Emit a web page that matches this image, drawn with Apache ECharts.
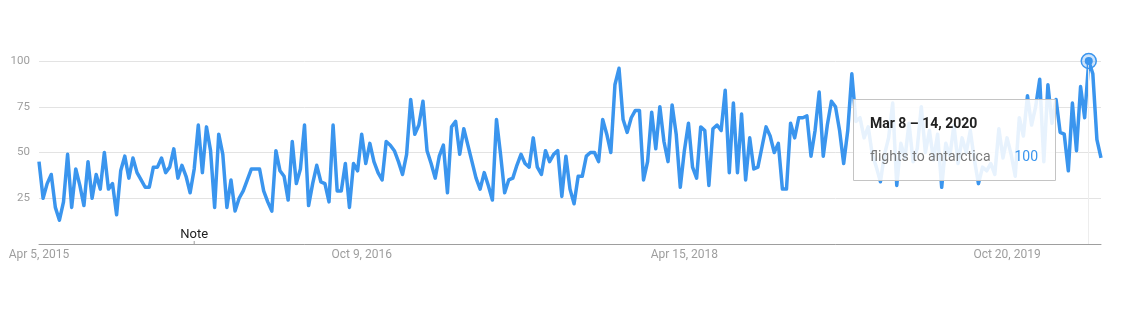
<!DOCTYPE html>
<html><head><meta charset="utf-8">
<script src="https://cdn.jsdelivr.net/npm/echarts@6.0.0/dist/echarts.min.js"></script>
<style>html,body{margin:0;padding:0;background:#fff}#c{width:1131px;height:312px}</style>
</head><body><div id="c"></div>
<script>
// Weekly interest, Google Trends style (week starting Apr 5, 2015)
const weeksA = [45,25,33,38,20,13,23,49,20,41,32,21,45,25,38,30,50,30,33,16,40,48,36,47,39,35,31,31,42,42,47,39,42];
const weeksB = [52,36,43,37,28,41,65,39,64,51,20,60,49,20,35,18,25,29,35,41,41,41,29,23,18,51,40,37,24,56,33,41,65];
const weeksC = [21,33,43,34,33,23,65,29,29,44,20,44,40,60,44,55,45,39,35,56,54,51,45,38,49,79,60,65,78,51,44,36,48];
const weeksD = [54,28,64,67,49,63,54,45,36,30,39,32,24,68,49,28,35,36,43,49,44,42,58,42,38,51,45,49,51,26,48,30,22];
const weeksE = [37,37,48,50,50,45,68,60,50,87,96,68,61,69,73,73,35,45,72,52,75,56,45,76,60,31,51,66,42,36,64,62,32];
const weeksF = [63,65,62,84,39,77,39,71,35,58,41,42,53,64,59,50,55,30,30,66,58,69,69,70,48,62,83,48,65,78,75,62,44];
const weeksG = [62,93,67,69,58,64,49,42,34,49,58,77,32,55,47,66,45,52,75,50,62,46,60,31,55,48,65,44,58,50,62,46,33,42,40,44,38,63,47,58,49,37,69,59,81,65,75,90,45,87,66,79,61,60,40,77,51,86,69,100,93,57,47];
const firstWeek = [2015, 3, 5];
const labelEvery = 79;
const yTicks = [0, 25, 50, 75, 100];
const seriesName = 'flights to antarctica';
const tooltipTitle = 'Mar 8 – 14, 2020';
const noteIndex = 38;
const noteText = 'Note';

const values = [].concat(weeksA, weeksB, weeksC, weeksD, weeksE, weeksF, weeksG);
const monthNames = ['Jan','Feb','Mar','Apr','May','Jun','Jul','Aug','Sep','Oct','Nov','Dec'];
const categories = values.map((v, i) => {
  const d = new Date(Date.UTC(firstWeek[0], firstWeek[1], firstWeek[2] + 7 * i));
  return monthNames[d.getUTCMonth()] + ' ' + d.getUTCDate() + ', ' + d.getUTCFullYear();
});
const peakVal = Math.max.apply(null, values);
const peakIdx = values.indexOf(peakVal);

const BLUE = '#3a95ee';
const FONT = 'Roboto, "Noto Sans", sans-serif';
const chart = echarts.init(document.getElementById('c'), null, {renderer: 'canvas'});
chart.setOption({
  animation: false,
  grid: {left: 39, right: 30, top: 61, bottom: 68, containLabel: false},
  xAxis: {
    type: 'category', boundaryGap: false, data: categories,
    axisLine: {lineStyle: {color: '#9e9e9e', width: 1}},
    axisTick: {show: false},
    axisLabel: {interval: labelEvery - 1, color: '#9e9e9e', fontSize: 12, fontFamily: FONT, margin: 5},
    splitLine: {show: false}
  },
  yAxis: {
    type: 'value', min: yTicks[0], max: yTicks[yTicks.length - 1], interval: yTicks[1] - yTicks[0],
    axisLine: {show: false}, axisTick: {show: false},
    axisLabel: {color: '#9e9e9e', fontSize: 11.5, fontFamily: FONT, margin: 9,
      formatter: v => v === 0 ? '' : String(v)},
    splitLine: {lineStyle: {color: '#e3e3e3', width: 1}}
  },
  series: [{
    name: seriesName, type: 'line', data: values, showSymbol: false, silent: true,
    lineStyle: {color: BLUE, width: 3.5, join: 'round'}, itemStyle: {color: BLUE},
    markLine: {silent: true, symbol: 'none', label: {show: false},
      lineStyle: {color: '#ededed', type: 'solid', width: 1},
      data: [{xAxis: peakIdx}]},
    markPoint: {silent: true, label: {show: false},
      data: [
        {coord: [peakIdx, peakVal], symbol: 'circle', symbolSize: 15,
          itemStyle: {color: 'rgba(58,149,238,0.25)', borderColor: BLUE, borderWidth: 1.5}},
        {coord: [peakIdx, peakVal], symbol: 'circle', symbolSize: 8, itemStyle: {color: BLUE}}
      ]}
  }]
});

const notePt = chart.convertToPixel({gridIndex: 0}, [noteIndex, 0]);
chart.setOption({
  graphic: [
    {type: 'line', z: 50, shape: {x1: notePt[0], y1: notePt[1] - 3, x2: notePt[0], y2: notePt[1]},
      style: {stroke: '#9e9e9e', lineWidth: 1}},
    {type: 'text', z: 50, x: notePt[0], y: notePt[1] - 9,
      style: {text: noteText, font: '13px ' + FONT, fill: '#222',
        align: 'center', verticalAlign: 'middle', textAlign: 'center', textVerticalAlign: 'middle'}},
    {type: 'group', z: 100, children: [
      {type: 'rect', z: 100, shape: {x: 853.5, y: 99.5, width: 202, height: 81},
        style: {fill: 'rgba(255,255,255,0.88)', stroke: '#c4c4c4', lineWidth: 1}},
      {type: 'text', z: 101, x: 870, y: 124,
        style: {text: tooltipTitle, font: 'bold 14px ' + FONT, fill: '#212121',
          align: 'left', verticalAlign: 'middle', textAlign: 'left', textVerticalAlign: 'middle'}},
      {type: 'text', z: 101, x: 870, y: 157,
        style: {text: seriesName, font: '14px ' + FONT, fill: '#777777',
          align: 'left', verticalAlign: 'middle', textAlign: 'left', textVerticalAlign: 'middle'}},
      {type: 'text', z: 101, x: 1038, y: 157,
        style: {text: String(peakVal), font: '14px ' + FONT, fill: BLUE,
          align: 'right', verticalAlign: 'middle', textAlign: 'right', textVerticalAlign: 'middle'}}
    ]}
  ]
});
</script></body></html>
